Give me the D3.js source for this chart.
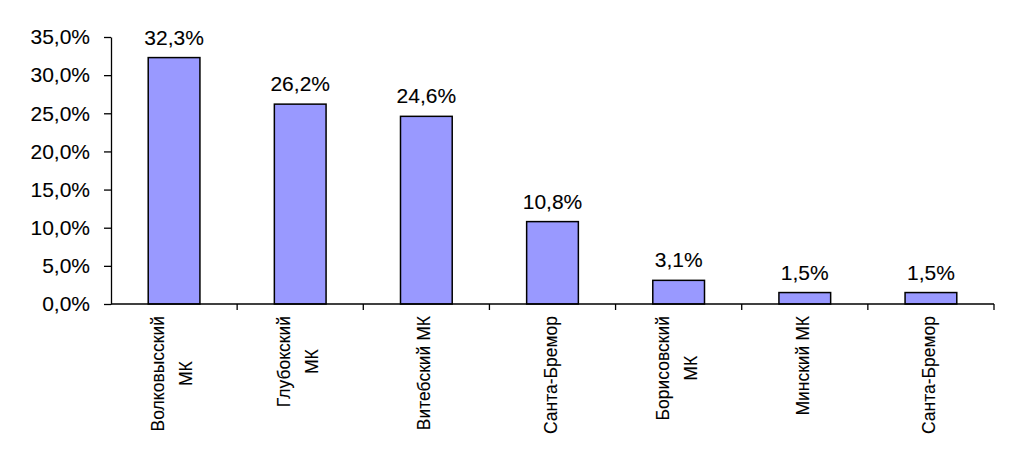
<!DOCTYPE html>
<html>
<head>
<meta charset="utf-8">
<script src="https://cdn.jsdelivr.net/npm/d3@7"></script>
<style>
	body { margin: 0; background: #fff; }
	svg text { font-family: 'Liberation Sans', Arial, sans-serif; fill: #000; stroke: #000; stroke-width: 0.1px; }
</style>
</head>
<body>
<div id="chart"></div>
<script>
	// data
	const categories = [
		['Волковысский', 'МК'],
		['Глубокский', 'МК'],
		['Витебский МК'],
		['Санта-Бремор'],
		['Борисовский', 'МК'],
		['Минский МК'],
		['Санта-Бремор']
	];
	const shares = [32.3, 26.2, 24.6, 10.8, 3.1, 1.5, 1.5];
	const yTicks = [0, 5, 10, 15, 20, 25, 30, 35];

	const width = 1019;
	const height = 460;
	const margin = { top: 37, right: 25, bottom: 156, left: 111 };
	const innerW = width - margin.left - margin.right;
	const innerH = height - margin.top - margin.bottom;

	const svg = d3.select('#chart').append('svg')
		.attr('width', width)
		.attr('height', height);

	const chart = svg.append('g')
		.attr('transform', `translate(${margin.left}, ${margin.top})`);

	const x = d3.scaleBand()
		.domain(d3.range(shares.length))
		.range([0, innerW])
		.paddingInner(0.59)
		.paddingOuter(0.295);
	const y = d3.scaleLinear()
		.domain([0, 35])
		.range([innerH, 0]);

	const fmt = v => d3.format('.1f')(v).replace('.', ',') + '%';

	// y axis
	const yAxisG = chart.append('g')
		.call(d3.axisLeft(y)
			.tickValues(yTicks)
			.tickSize(7)
			.tickSizeOuter(0)
			.tickPadding(14)
			.tickFormat(fmt));
	yAxisG.selectAll('text')
		.style('font-size', '21px')
		.style('font-family', "'Liberation Sans', Arial, sans-serif");
	yAxisG.selectAll('line, path').attr('stroke', '#000').attr('stroke-width', 1.3);

	// bars
	chart.selectAll('.bar')
		.data(shares)
		.enter().append('rect')
		.attr('class', 'bar')
		.attr('x', (d, i) => x(i))
		.attr('width', x.bandwidth())
		.attr('y', d => y(d))
		.attr('height', d => innerH - y(d))
		.style('fill', '#9999ff')
		.style('stroke', '#000')
		.style('stroke-width', 1.5);

	// x axis line + ticks between categories
	chart.append('line')
		.attr('x1', 0).attr('x2', innerW)
		.attr('y1', innerH).attr('y2', innerH)
		.style('stroke', '#000')
		.style('stroke-width', 1.3);
	chart.selectAll('.xtick')
		.data(d3.range(1, shares.length + 1))
		.enter().append('line')
		.attr('class', 'xtick')
		.attr('x1', i => i * x.step())
		.attr('x2', i => i * x.step())
		.attr('y1', innerH)
		.attr('y2', innerH + 6)
		.style('stroke', '#000')
		.style('stroke-width', 1.3);

	// value labels
	chart.selectAll('.val')
		.data(shares)
		.enter().append('text')
		.attr('class', 'val')
		.attr('x', (d, i) => x(i) + x.bandwidth() / 2)
		.attr('y', d => y(d) - 13)
		.style('text-anchor', 'middle')
		.style('font-size', '21px')
		.text(fmt);

	// category labels, rotated, top aligned under the axis
	const lineGap = 28;
	categories.forEach((lines, i) => {
		const cx = x(i) + x.bandwidth() / 2;
		const g = chart.append('g')
			.attr('transform', `translate(${cx}, ${innerH + 12}) rotate(-90)`);
		const texts = lines.map((t, k) => g.append('text')
			.style('font-size', '17.5px')
			.style('text-anchor', 'middle')
			.attr('y', 4 + (k - (lines.length - 1) / 2) * lineGap)
			.text(t));
		const maxLen = d3.max(texts, t => t.node().getComputedTextLength());
		texts.forEach(t => t.attr('x', -maxLen / 2));
	});
</script>
</body>
</html>
